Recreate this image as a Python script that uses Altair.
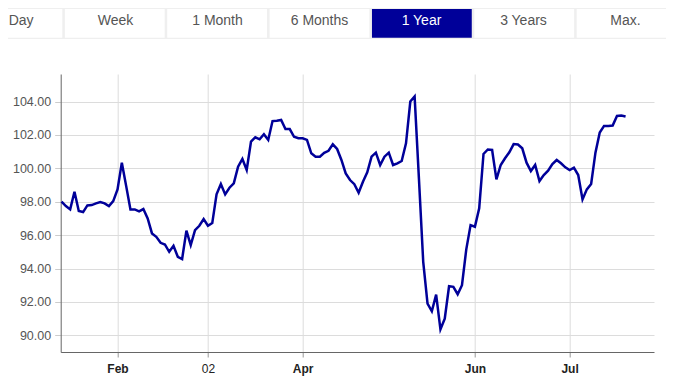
import altair as alt
import pandas as pd

# ---- data ----
values = [
    98.0, 97.74, 97.54, 98.6, 97.44, 97.38, 97.78, 97.8, 97.9, 97.98, 97.9, 97.74,
    98.04, 98.74, 100.34, 98.95, 97.54, 97.54, 97.42, 97.56, 97.0, 96.1, 95.9,
    95.54, 95.44, 95.0, 95.36, 94.7, 94.57, 96.27, 95.4, 96.3, 96.56, 96.96, 96.56,
    96.72, 98.44, 99.06, 98.44, 98.84, 99.1, 100.1, 100.56, 99.9, 101.6,
    101.86, 101.74, 102.04, 101.7, 102.83, 102.85, 102.9, 102.35, 102.35, 101.89,
    101.8, 101.8, 101.7, 100.9, 100.7, 100.7, 100.93, 101.05, 101.44, 101.16, 100.5, 99.7,
    99.3, 99.05, 98.54, 99.2, 99.76, 100.7, 100.94, 100.2, 100.7, 100.94, 100.2, 100.3,
    100.44, 101.5, 104.0, 104.3, 99.4, 94.4, 91.9, 91.44, 92.44, 90.36, 91.0,
    92.94, 92.9, 92.46, 93.0, 95.15, 96.6, 96.5, 97.6, 100.86, 101.13, 101.1, 99.34,
    100.2, 100.6, 100.96, 101.45, 101.43, 101.2, 100.34, 99.84, 100.2, 99.24, 99.6,
    99.86, 100.26, 100.5, 100.3, 100.06, 99.9, 100.04, 99.6, 98.14, 98.74, 99.06,
    100.94, 102.14, 102.54, 102.54, 102.56, 103.14, 103.16, 103.1,
]
tabs = ["Day", "Week", "1 Month", "6 Months", "1 Year", "3 Years", "Max."]
selected_tab = "1 Year"
x_tick_values = [13, 34, 56, 96, 118]
x_tick_labels = ["Feb", "02", "Apr", "Jun", "Jul"]
y_tick_values = [90, 92, 94, 96, 98, 100, 102, 104]

df = pd.DataFrame({"i": list(range(len(values))), "v": values})
tab_df = pd.DataFrame({"tab": tabs})
one_df = pd.DataFrame({"a": [0]})

# label expression from the tick lists
label_expr = "''"
for tv, tl in reversed(list(zip(x_tick_values, x_tick_labels))):
    label_expr = f"datum.value == {tv} ? '{tl}' : ({label_expr})"

FONT = "Liberation Sans"
BLUE = "#000099"

line = alt.Chart(df).mark_line(color=BLUE, strokeWidth=2.5).encode(
    x=alt.X(
        "i:Q",
        scale=alt.Scale(domain=[-0.2, 137.6], nice=False, zero=False),
        axis=alt.Axis(
            values=x_tick_values, labelExpr=label_expr, title=None, grid=True,
            gridColor="#dcdcdc", domainColor="#666666", tickColor="#999999",
            tickSize=5, labelFont=FONT, labelFontSize=12, labelColor="#222222",
            labelPadding=6,
            labelFontWeight={"condition": {"test": "datum.value == 34", "value": "normal"},
                             "value": "bold"},
        ),
    ),
    y=alt.Y(
        "v:Q",
        scale=alt.Scale(domain=[89.0, 105.65], nice=False, zero=False),
        axis=alt.Axis(
            values=y_tick_values, format=".2f", title=None, grid=True,
            gridColor="#dcdcdc", domainColor="#666666", tickColor="#cccccc",
            tickSize=6, labelFont=FONT, labelFontSize=12.5, labelColor="#555555",
            labelPadding=4,
        ),
    ),
)

tab_scale = alt.Scale(domain=tabs, range=[-98.2, 615.8], paddingInner=0.025, paddingOuter=0)

strip = alt.Chart(one_df).mark_rect(color="#efefef").encode(
    x=alt.value(-53), x2=alt.value(606), y=alt.value(-66), y2=alt.value(-35)
)

tab_rects = alt.Chart(tab_df).mark_rect().encode(
    x=alt.X("tab:N", scale=tab_scale, axis=None),
    y=alt.value(-65), y2=alt.value(-36.3),
    color=alt.condition(alt.datum.tab == selected_tab, alt.value(BLUE), alt.value("white")),
)

tab_text = alt.Chart(tab_df).transform_filter(alt.datum.tab != tabs[0]).mark_text(
    font=FONT, fontSize=14, baseline="middle"
).encode(
    x=alt.X("tab:N", scale=tab_scale, axis=None),
    y=alt.value(-53.3),
    text="tab:N",
    color=alt.condition(alt.datum.tab == selected_tab, alt.value("white"), alt.value("#555555")),
)

# first tab is cut by the page edge: keep its label fully visible at the left edge
first_tab_text = alt.Chart(tab_df).transform_filter(alt.datum.tab == tabs[0]).mark_text(
    font=FONT, fontSize=14, baseline="middle", align="left", color="#555555"
).encode(
    x=alt.value(-52),
    y=alt.value(-53.3),
    text="tab:N",
)

chart = alt.layer(strip, tab_rects, tab_text, first_tab_text, line).resolve_scale(
    x="independent"
).properties(
    width=593.3, height=278,
    autosize="none",
    padding={"left": 52.7, "top": 66, "right": 12, "bottom": 29},
).configure_view(stroke=None)

chart.save("out.html", embed_options={"renderer": "svg", "actions": False})
